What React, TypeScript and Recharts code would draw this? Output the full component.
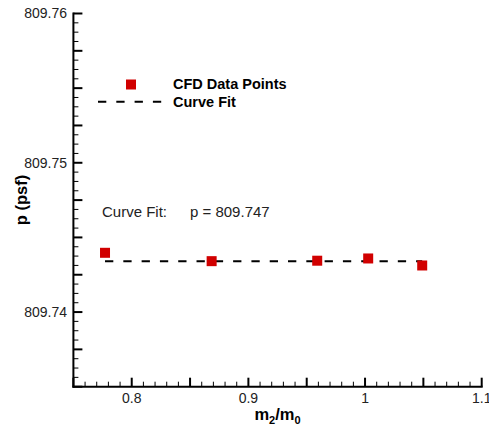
import { ScatterChart, Scatter, XAxis, YAxis } from "recharts";

// CFD pressure vs. mass ratio
const massRatio = [0.7771, 0.8685, 0.959, 1.0027, 1.049];
const pressure = [809.74397, 809.74341, 809.74344, 809.74359, 809.74312];

// curve fit (constant)
const fitRange = [0.7771, 1.049];
const fitValue = 809.7434;

const xDomain = [0.75, 1.1];
const yDomain = [809.735, 809.76];
const xTickLabels = [0.8, 0.9, 1, 1.1];
const yTickLabels = [809.74, 809.75, 809.76];

const X_MAJOR = 0.05;
const X_MINOR = 0.01;
const Y_MAJOR = 0.0025;
const Y_MINOR = 0.000625;

const FONT = "'Liberation Sans', Arial, Helvetica, sans-serif";
const RED = "#d10000";

// chart geometry
const W = 489;
const H = 436;
const MARGIN = { top: 13.5, right: 7.3, bottom: 9.3, left: 13.4 };
const Y_AXIS_W = 60;
const X_AXIS_H = 40;
const PLOT_W = W - MARGIN.left - MARGIN.right - Y_AXIS_W;
const PLOT_H = H - MARGIN.top - MARGIN.bottom - X_AXIS_H;

function steps(min: number, max: number, step: number) {
  const out: number[] = [];
  const n = Math.round((max - min) / step);
  for (let i = 0; i <= n; i++) out.push(+(min + i * step).toFixed(6));
  return out;
}

const xTicks = steps(xDomain[0], xDomain[1], X_MAJOR);
const yTicks = steps(yDomain[0], yDomain[1], Y_MAJOR);

const points = massRatio.map((m, i) => ({ m, p: pressure[i] }));
const fitLine = fitRange.map((m) => ({ m, p: fitValue }));

// major tick + the minor ticks up to the next major
const XTick = (props: any) => {
  const { x, y, payload } = props;
  const v = Number(payload.value);
  const label = xTickLabels.find((l) => Math.abs(l - v) < 1e-6);
  const step = (PLOT_W * X_MINOR) / (xDomain[1] - xDomain[0]);
  const minors = v < xDomain[1] - 1e-9 ? [1, 2, 3, 4] : [];
  return (
    <g>
      <line x1={x} x2={x} y1={y} y2={y - 9} stroke="#000" strokeWidth={2} />
      {minors.map((k) => (
        <line
          key={k}
          x1={x + k * step}
          x2={x + k * step}
          y1={y}
          y2={y - 5}
          stroke="#000"
          strokeWidth={1}
        />
      ))}
      {label !== undefined && (
        <text x={x} y={y + 16.3} textAnchor="middle" fontSize={14} fontFamily={FONT} fill="#222">
          {String(label)}
        </text>
      )}
    </g>
  );
};

const YTick = (props: any) => {
  const { x, y, payload } = props;
  const v = Number(payload.value);
  const label = yTickLabels.find((l) => Math.abs(l - v) < 1e-7);
  const step = (PLOT_H * Y_MINOR) / (yDomain[1] - yDomain[0]);
  const minors = v < yDomain[1] - 1e-9 ? [1, 2, 3] : [];
  return (
    <g>
      <line x1={x} x2={x + 9} y1={y} y2={y} stroke="#000" strokeWidth={2} />
      {minors.map((k) => (
        <line
          key={k}
          x1={x}
          x2={x + 5}
          y1={y - k * step}
          y2={y - k * step}
          stroke="#000"
          strokeWidth={1}
        />
      ))}
      {label !== undefined && (
        <text x={x - 6.4} y={y} dy="0.35em" textAnchor="end" fontSize={14} fontFamily={FONT} fill="#222">
          {label.toFixed(2)}
        </text>
      )}
    </g>
  );
};

const Square = (props: any) => (
  <rect x={props.cx - 5} y={props.cy - 5} width={10} height={10} fill={RED} />
);

export default function App() {
  return (
    <div style={{ position: "absolute", left: 0, top: 0, width: W, height: H }}>
      <ScatterChart width={W} height={H} margin={MARGIN}>
        <XAxis
          type="number"
          dataKey="m"
          domain={xDomain}
          ticks={xTicks}
          interval={0}
          tickSize={0}
          tickMargin={0}
          height={X_AXIS_H}
          tick={<XTick />}
          axisLine={{ stroke: "#000", strokeWidth: 2, strokeLinecap: "square" }}
          allowDataOverflow
        />
        <YAxis
          type="number"
          dataKey="p"
          domain={yDomain}
          ticks={yTicks}
          interval={0}
          tickSize={0}
          tickMargin={0}
          width={Y_AXIS_W}
          tick={<YTick />}
          axisLine={{ stroke: "#000", strokeWidth: 2, strokeLinecap: "square" }}
          allowDataOverflow
        />
        <Scatter
          name="Curve Fit"
          data={fitLine}
          line={{ stroke: "#000", strokeWidth: 2, strokeDasharray: "8.3 10" }}
          shape={() => <g />}
          isAnimationActive={false}
        />
        <Scatter
          name="CFD Data Points"
          data={points}
          shape={<Square />}
          isAnimationActive={false}
        />
      </ScatterChart>
      <svg
        width={W}
        height={H}
        style={{ position: "absolute", left: 0, top: 0, pointerEvents: "none" }}
        fontFamily={FONT}
      >
        {/* legend */}
        <rect x={126} y={79.5} width={10} height={10} fill={RED} />
        <line x1={98} x2={162} y1={101.7} y2={101.7} stroke="#000" strokeWidth={2} strokeDasharray="8.3 10" />
        <text x={173} y={89.2} fontSize={14.5} fontWeight="bold" fill="#000">
          CFD Data Points
        </text>
        <text x={173} y={107.2} fontSize={14.5} fontWeight="bold" fill="#000">
          Curve Fit
        </text>
        {/* annotation */}
        <text x={102} y={216.7} fontSize={15} fill="#222">
          Curve Fit:
        </text>
        <text x={190} y={216.7} fontSize={15} fill="#222">
          p = 809.747
        </text>
        {/* axis titles */}
        <text
          x={21.5}
          y={200}
          transform="rotate(-90 21.5 200)"
          textAnchor="middle"
          dy="0.35em"
          fontSize={16.5}
          fontWeight="bold"
          fill="#000"
        >
          p (psf)
        </text>
        <text x={277.5} y={420} textAnchor="middle" fontSize={16.5} fontWeight="bold" fill="#000">
          m<tspan fontSize={11} dy={4}>2</tspan>
          <tspan dy={-4}>/m</tspan>
          <tspan fontSize={11} dy={4}>0</tspan>
        </text>
      </svg>
    </div>
  );
}
